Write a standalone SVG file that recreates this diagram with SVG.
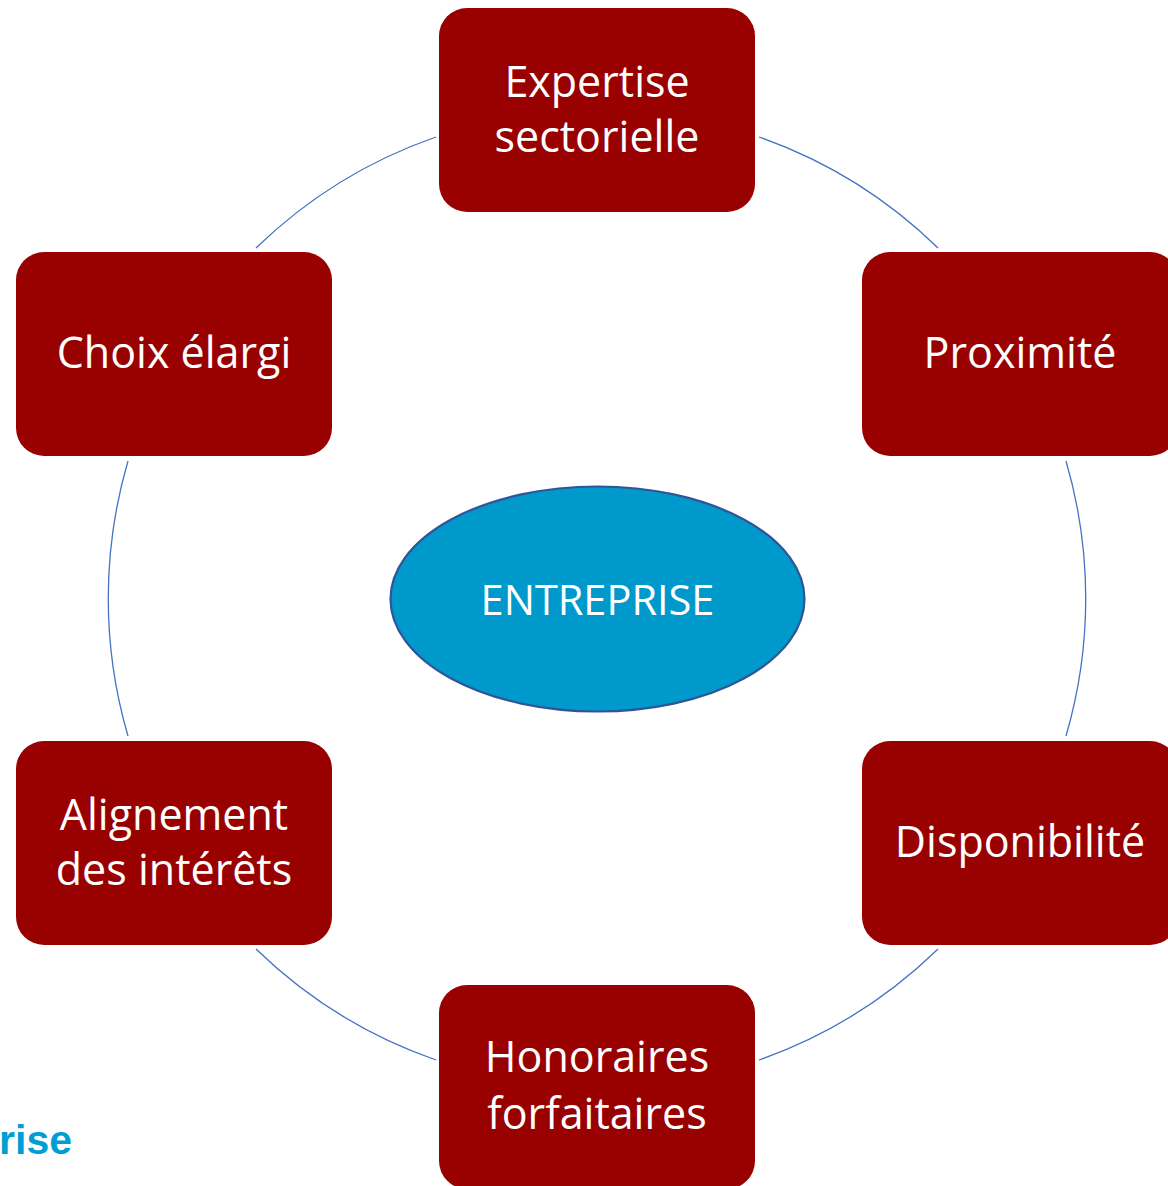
<svg xmlns="http://www.w3.org/2000/svg" width="1168" height="1186" viewBox="0 0 1168 1186">
  <style>
    .box { fill: #990000; }
    .lbl { fill: #ffffff; font-family: "Open Sans", "Noto Sans", sans-serif; font-size: 43px; text-anchor: middle; }
    .lbl.core { font-size: 41.5px; }
    .arc { fill: none; stroke: #4472C4; stroke-width: 1.3; }
  </style>
  <rect width="1168" height="1186" fill="#ffffff"/>

  <!-- ring segments between the satellites (circle centre 597,598.5, r 489) -->
  <g id="connectors">
    <path class="arc" d="M436,137 A489,489 0 0 0 256,248"/>
    <path class="arc" d="M128,461 A489,489 0 0 0 128,736"/>
    <path class="arc" d="M256,949 A489,489 0 0 0 436,1060"/>
    <path class="arc" d="M759,1060 A489,489 0 0 0 938,949"/>
    <path class="arc" d="M1066,736 A489,489 0 0 0 1066,461"/>
    <path class="arc" d="M938,248 A489,489 0 0 0 759,137"/>
  </g>

  <g id="node-entreprise">
    <ellipse cx="597.5" cy="599" rx="207" ry="112.5" fill="#0099CC" stroke="#2F5597" stroke-width="2.2"/>
    <text class="lbl core" x="597.5" y="615">ENTREPRISE</text>
  </g>

  <g id="node-expertise">
    <rect class="box" x="439" y="8" width="316" height="204" rx="28"/>
    <text class="lbl" x="597" y="97">Expertise</text>
    <text class="lbl" x="597" y="152">sectorielle</text>
  </g>

  <g id="node-proximite">
    <rect class="box" x="862" y="252" width="316" height="204" rx="28"/>
    <text class="lbl" x="1020" y="368">Proximité</text>
  </g>

  <g id="node-disponibilite">
    <rect class="box" x="862" y="741" width="316" height="204" rx="28"/>
    <text class="lbl" x="1020" y="857">Disponibilité</text>
  </g>

  <g id="node-honoraires">
    <rect class="box" x="439" y="985" width="316" height="204" rx="28"/>
    <text class="lbl" x="597" y="1072">Honoraires</text>
    <text class="lbl" x="597" y="1129">forfaitaires</text>
  </g>

  <g id="node-alignement">
    <rect class="box" x="16" y="741" width="316" height="204" rx="28"/>
    <text class="lbl" x="174" y="830">Alignement</text>
    <text class="lbl" x="174" y="885">des intérêts</text>
  </g>

  <g id="node-choix">
    <rect class="box" x="16" y="252" width="316" height="204" rx="28"/>
    <text class="lbl" x="174" y="368">Choix élargi</text>
  </g>

  <text x="72" y="1154" text-anchor="end" fill="#009ED5" font-family="Liberation Sans, Arial, sans-serif" font-weight="bold" font-size="41">rise</text>
</svg>
